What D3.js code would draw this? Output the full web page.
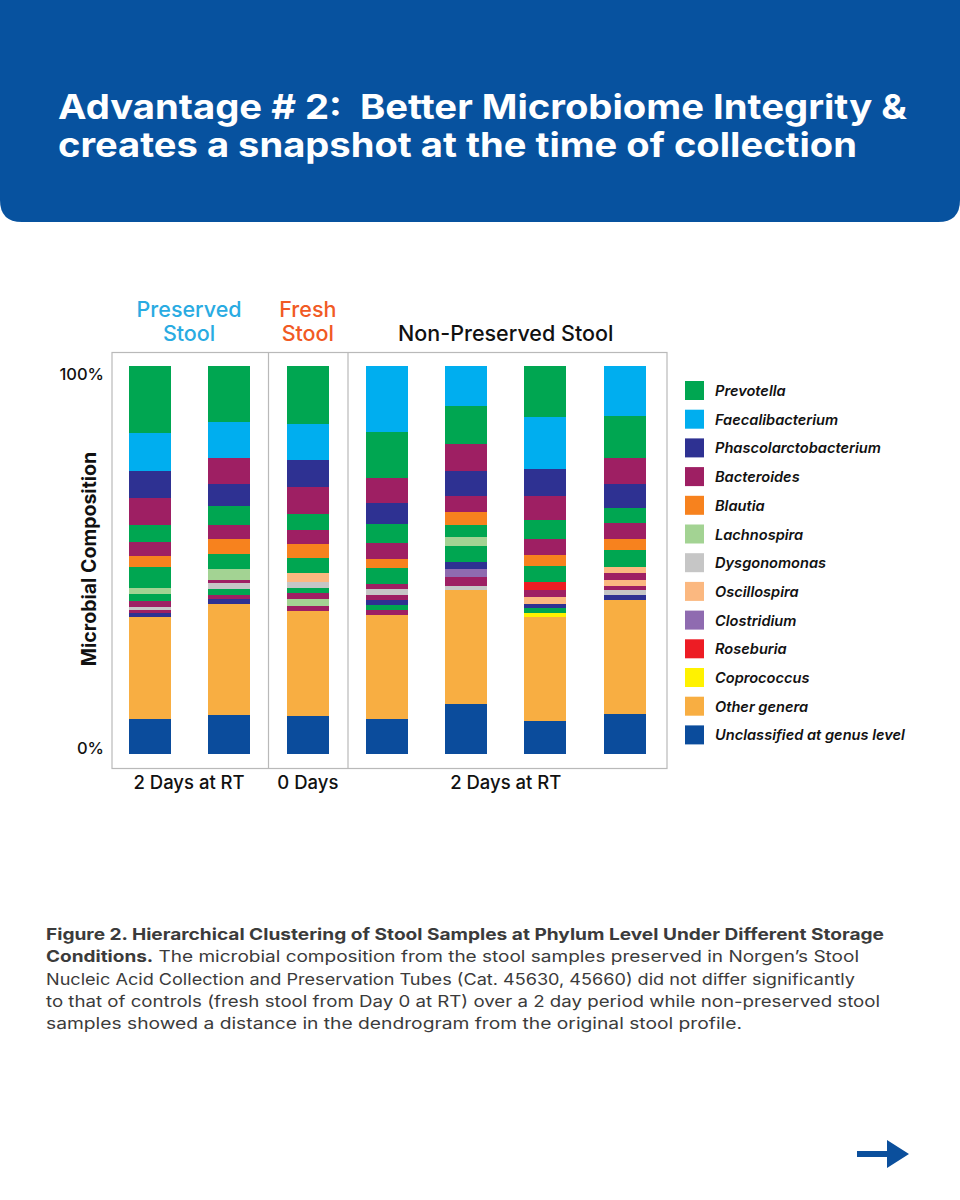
<!DOCTYPE html>
<html lang="en">
<head>
<meta charset="utf-8">
<title>Better Microbiome Integrity</title>
<script src="https://cdnjs.cloudflare.com/ajax/libs/d3/7.8.5/d3.min.js"></script>
<style>
  body { margin: 0; background: #fff; }
  svg { display: block; font-family: Inter, "Open Sans", sans-serif; }
  .pre { white-space: pre; }
</style>
</head>
<body>
<script>
// legend order
var genera = ["Prevotella", "Faecalibacterium", "Phascolarctobacterium", "Bacteroides", "Blautia",
  "Lachnospira", "Dysgonomonas", "Oscillospira", "Clostridium", "Roseburia", "Coprococcus",
  "Other genera", "Unclassified at genus level"];
var genusColors = ["#00a651", "#00aeef", "#2e3192", "#9e1f63", "#f7821e", "#a3d393", "#c6c6c6",
  "#fbb880", "#8f6bb0", "#ed1c24", "#fff200", "#f8ae42", "#0b4c9c"];

var samples = ["P1", "P2", "F1", "N1", "N2", "N3", "N4"];

// each bar read from the top down: genus index and share (%)
var layerGenus = [
  [0, 1, 2, 3, 0, 3, 4, 0, 5, 0, 3, 6, 3, 2, 11, 12],
  [0, 1, 3, 2, 0, 3, 4, 0, 5, 3, 6, 0, 3, 2, 11, 12],
  [0, 1, 2, 3, 0, 3, 4, 0, 7, 6, 0, 3, 5, 3, 11, 12],
  [1, 0, 3, 2, 0, 3, 4, 0, 3, 6, 3, 2, 0, 3, 11, 12],
  [1, 0, 3, 2, 3, 4, 0, 5, 0, 2, 8, 3, 6, 11, 12],
  [0, 1, 2, 3, 0, 3, 4, 0, 9, 3, 7, 2, 0, 10, 11, 12],
  [1, 0, 3, 2, 0, 3, 4, 0, 7, 3, 7, 3, 6, 2, 11, 12]
];
var layerShare = [
  [17.2, 9.8, 6.9, 7.1, 4.2, 3.7, 2.8, 5.6, 1.3, 1.9, 1.5, 0.8, 0.85, 0.95, 26.4, 9.0],
  [14.4, 9.35, 6.6, 5.75, 4.8, 3.6, 3.8, 4.0, 2.8, 0.8, 1.65, 1.35, 1.2, 1.2, 28.7, 10.0],
  [14.95, 9.3, 6.95, 6.95, 4.2, 3.6, 3.45, 3.95, 2.3, 1.55, 1.35, 1.4, 1.8, 1.35, 26.95, 9.95],
  [16.9, 11.9, 6.6, 5.4, 4.7, 4.1, 2.4, 4.05, 1.35, 1.45, 1.3, 1.45, 1.3, 1.2, 26.9, 9.0],
  [10.3, 9.8, 6.9, 6.5, 4.1, 3.25, 3.25, 2.3, 4.2, 1.6, 2.05, 2.3, 1.05, 29.55, 12.85],
  [13.05, 13.45, 6.9, 6.2, 5.05, 4.05, 2.85, 4.2, 2.0, 1.8, 1.8, 0.85, 1.4, 1.05, 26.75, 8.6],
  [12.8, 10.95, 6.6, 6.1, 3.95, 4.2, 2.75, 4.3, 1.7, 1.8, 1.45, 1.05, 1.3, 1.35, 29.2, 10.5]
];

var groupNames = [["Preserved", "Stool"], ["Fresh", "Stool"], ["Non-Preserved Stool"]];
var groupDays = ["2 Days at RT", "0 Days", "2 Days at RT"];
var groupSamples = [["P1", "P2"], ["F1"], ["N1", "N2", "N3", "N4"]];
var yTicks = [0, 100];

var captionLines = [
  [["Figure 2. Hierarchical Clustering of Stool Samples at Phylum Level Under Different Storage", true]],
  [["Conditions.", true], [" The microbial composition from the stool samples preserved in Norgen\u2019s Stool", false]],
  [["Nucleic Acid Collection and Preservation Tubes (Cat. 45630, 45660) did not differ significantly", false]],
  [["to that of controls (fresh stool from Day 0 at RT) over a 2 day period while non-preserved stool", false]],
  [["samples showed a distance in the dendrogram from the original stool profile.", false]]
];

var W = 960, H = 1200;
var svg = d3.select("body").append("svg")
  .attr("width", W)
  .attr("height", H);

// header banner
var bannerColor = "#07529f";
var r = 22, bh = 222;
svg.append("path")
  .attr("d", "M0,0H" + W + "V" + (bh - r) + "Q" + W + "," + bh + " " + (W - r) + "," + bh +
    "H" + r + "Q0," + bh + " 0," + (bh - r) + "Z")
  .attr("fill", bannerColor);

var title = svg.append("g")
  .attr("fill", "#fff")
  .attr("font-weight", 700)
  .attr("font-size", 34);
title.append("text").attr("class", "pre").attr("x", 58).attr("y", 119)
  .attr("textLength", 849).attr("lengthAdjust", "spacingAndGlyphs")
  .text("Advantage # 2:  Better Microbiome Integrity &");
title.append("text").attr("x", 58).attr("y", 157)
  .attr("textLength", 799).attr("lengthAdjust", "spacingAndGlyphs")
  .text("creates a snapshot at the time of collection");

// chart
var x = d3.scalePoint().domain(samples).range([149.5, 624.5]);
var y = d3.scaleLinear().domain([0, 100]).range([754.3, 366]);
var barW = 42;

var frameL = 112, frameR = 667, frameT = 352.5, frameB = 768.5;
var frame = svg.append("g").attr("stroke", "#b9b9b9").attr("fill", "none").attr("stroke-width", 1.2);
frame.append("rect")
  .attr("x", frameL).attr("y", frameT)
  .attr("width", frameR - frameL).attr("height", frameB - frameT);
[268.5, 348].forEach(function(d) {
  frame.append("line").attr("x1", d).attr("x2", d).attr("y1", frameT).attr("y2", frameB);
});

var bars = svg.selectAll("g.bar").data(samples)
  .enter().append("g")
  .attr("class", "bar")
  .attr("transform", function(d) { return "translate(" + (x(d) - barW / 2) + ",0)"; });

bars.each(function(d, i) {
  var g = d3.select(this);
  var segs = [];
  var acc = 0;
  // stack from the bottom up
  for (var k = layerGenus[i].length - 1; k >= 0; k--) {
    segs.push({ g: layerGenus[i][k], y0: acc, y1: acc + layerShare[i][k] });
    acc += layerShare[i][k];
  }
  g.selectAll("rect").data(segs)
    .enter().append("rect")
    .attr("x", 0)
    .attr("width", barW)
    .attr("y", function(s) { return y(s.y1); })
    .attr("height", function(s) { return y(s.y0) - y(s.y1); })
    .attr("fill", function(s) { return genusColors[s.g]; })
    .attr("shape-rendering", "crispEdges");
});

// y labels
svg.selectAll("text.ytick").data(yTicks)
  .enter().append("text")
  .attr("class", "ytick")
  .attr("x", 104)
  .attr("y", function(d) { return d === 100 ? y(d) + 14 : y(d); })
  .attr("text-anchor", "end")
  .attr("font-size", 16.5)
  .attr("font-weight", 500)
  .attr("fill", "#111")
  .text(function(d) { return d + "%"; });

svg.append("text")
  .attr("transform", "translate(96,559) rotate(-90)")
  .attr("text-anchor", "middle")
  .attr("font-size", 19.5)
  .attr("font-weight", 700)
  .attr("fill", "#111")
  .text("Microbial Composition");

// group headers + day labels
var groupColors = ["#29abe2", "#f15a24", "#111"];
groupSamples.forEach(function(gs, i) {
  var cx = (x(gs[0]) + x(gs[gs.length - 1])) / 2;
  var t = svg.append("text")
    .attr("text-anchor", "middle")
    .attr("font-size", 21.5)
    .attr("font-weight", 500)
    .attr("fill", groupColors[i]);
  if (groupNames[i].length === 2) {
    t.append("tspan").attr("x", cx).attr("y", 317).text(groupNames[i][0]);
    t.append("tspan").attr("x", cx).attr("y", 341).text(groupNames[i][1]);
  } else {
    t.attr("x", cx).attr("y", 341).text(groupNames[i][0]);
  }
  svg.append("text")
    .attr("x", cx)
    .attr("y", 789)
    .attr("text-anchor", "middle")
    .attr("font-size", 18.5)
    .attr("font-weight", 500)
    .attr("fill", "#111")
    .text(groupDays[i]);
});

// legend
var legend = svg.selectAll("g.legend").data(genera)
  .enter().append("g")
  .attr("class", "legend")
  .attr("transform", function(d, i) { return "translate(685," + (381 + i * 28.7) + ")"; });
legend.append("rect")
  .attr("width", 19).attr("height", 19)
  .attr("fill", function(d, i) { return genusColors[i]; });
legend.append("text")
  .attr("x", 30).attr("y", 15)
  .attr("font-size", 14.6)
  .attr("font-style", "italic")
  .attr("font-weight", 600)
  .attr("fill", "#111")
  .text(function(d) { return d; });

// caption
var lineWidths = [838, 813, 809, 834, 696];
captionLines.forEach(function(parts, i) {
  var t = svg.append("text")
    .attr("x", 46)
    .attr("y", 940 + i * 22.3)
    .attr("font-size", 16)
    .attr("fill", "#3b3b3b")
    .attr("textLength", lineWidths[i])
    .attr("lengthAdjust", "spacingAndGlyphs");
  parts.forEach(function(p) {
    t.append("tspan")
      .attr("font-weight", p[1] ? 700 : 400)
      .text(p[0]);
  });
});

// next arrow
svg.append("path")
  .attr("d", "M857,1151H887V1140L909,1154L887,1168V1157H857Z")
  .attr("fill", "#0b4f9c");
</script>
</body>
</html>
